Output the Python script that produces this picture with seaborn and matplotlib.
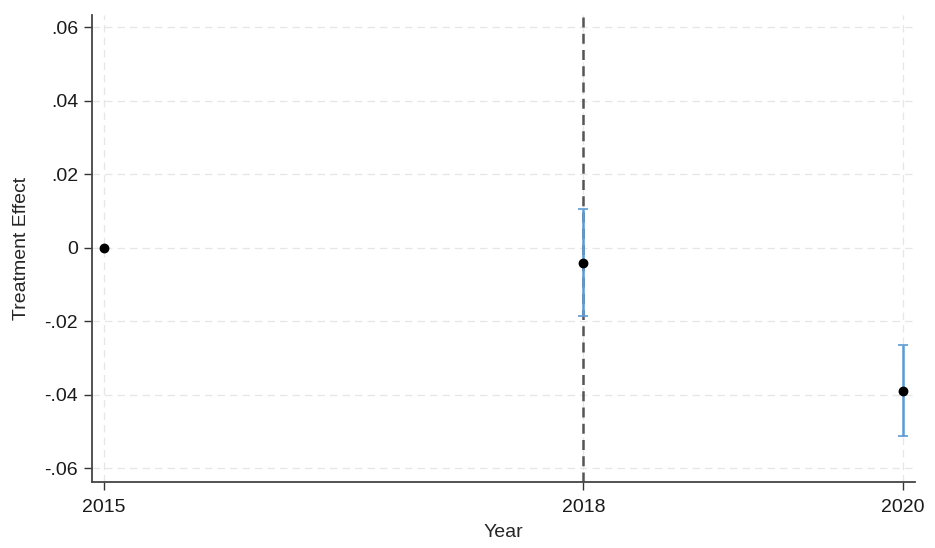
import numpy as np
import pandas as pd
import seaborn as sns
from matplotlib import pyplot as plt
from matplotlib.ticker import FuncFormatter

# event-study estimates
years = [2015, 2018, 2020]
effect = [0.0, -0.0041, -0.0389]
ci_low = [np.nan, -0.0187, -0.0513]
ci_high = [np.nan, 0.0106, -0.0264]
ytick_vals = [-0.06, -0.04, -0.02, 0.0, 0.02, 0.04, 0.06]


def stata_fmt(v, pos):
    # Stata style labels: .06, -.02, 0
    if abs(v) < 1e-9:
        return '0'
    s = '{:.2f}'.format(v)
    return s.replace('0.', '.', 1)


sns.set_style('white')
plt.rcParams['font.family'] = ['Liberation Sans', 'DejaVu Sans']

df = pd.DataFrame({'Year': years, 'Effect': effect, 'lo': ci_low, 'hi': ci_high})

fig = plt.figure(figsize=(9.35, 5.48), dpi=100)
ax = fig.add_axes([0.0984, 0.1204, 0.8802, 0.8522])

# light dashed grid
for yv in ytick_vals:
    ax.axhline(yv, color='#e6e6e6', lw=0.9, ls=(0, (6, 4)), zorder=0)
for xv in years:
    ax.axvline(xv, color='#e6e6e6', lw=0.9, ls=(0, (6, 4)), zorder=0)

# treatment year marker
ax.axvline(2018, color='#555555', lw=1.8, ls=(0, (4, 2.5)), zorder=1)

ci = df.dropna()
ax.errorbar(ci['Year'], ci['Effect'],
            yerr=[ci['Effect'] - ci['lo'], ci['hi'] - ci['Effect']],
            fmt='none', ecolor='#5b9bd5', elinewidth=1.8, capsize=3.5,
            capthick=1.2, zorder=2)

sns.scatterplot(data=df, x='Year', y='Effect', color='black', s=50,
                edgecolor='black', linewidth=0, ax=ax, zorder=3)

ax.set_xlim(2014.925, 2020.075)
ax.set_ylim(-0.0638, 0.0633)
ax.set_xticks(years)
ax.set_xticklabels([str(y) for y in years])
ax.set_yticks(ytick_vals)
ax.yaxis.set_major_formatter(FuncFormatter(stata_fmt))

ax.set_xlabel('Year', fontsize=14, labelpad=6)
ax.set_ylabel('Treatment Effect', fontsize=14, labelpad=10)
ax.tick_params(axis='both', labelsize=14, length=6, width=1, color='#333333',
               labelcolor='#1a1a1a', direction='out', left=True, bottom=True)
ax.tick_params(axis='x', pad=6)
ax.tick_params(axis='y', pad=4)

sns.despine(ax=ax)
for side in ['left', 'bottom']:
    ax.spines[side].set_color('#444444')
    ax.spines[side].set_linewidth(1.3)

fig.savefig('out.png', dpi=100)
